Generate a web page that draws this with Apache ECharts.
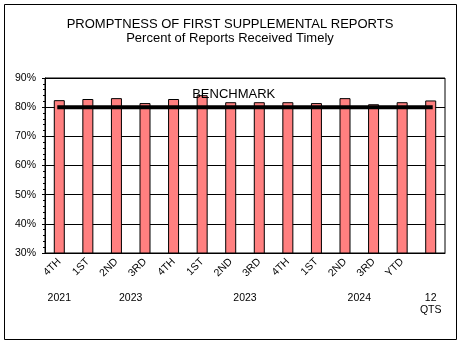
<!DOCTYPE html>
<html>
<head>
<meta charset="utf-8">
<style>
  html, body { margin: 0; padding: 0; background: #fff; }
  #chart { width: 460px; height: 343px; }
</style>
<script src="https://cdn.jsdelivr.net/npm/echarts@6/dist/echarts.min.js"></script>
</head>
<body>
<div id="chart"></div>
<script>
// Quarter labels along the axis (last bar is the 12-quarter total)
const quarters = ['4TH', '1ST', '2ND', '3RD', '4TH', '1ST', '2ND', '3RD', '4TH', '1ST', '2ND', '3RD', 'YTD', ''];
// Percent of first supplemental reports received on time
const timelyPct = [82.4, 82.8, 83.1, 81.4, 82.8, 84.1, 81.7, 81.7, 81.7, 81.4, 83.1, 81.0, 81.7, 82.3];
// Benchmark target
const benchmark = [80, 80, 80, 80, 80, 80, 80, 80, 80, 80, 80, 80, 80, 80];
// Year / period captions under the quarter labels
const periodLabels = ['2021', '2023', '2023', '2024', '12\nQTS'];
// Y axis range and step (percent)
const yMin = 30, yMax = 90, yStep = 10;

// Period captions sit on a half-step axis: slot 2i+1 is the centre of bar i,
// slot 2i+2 is the gap after bar i.
const periodSlots = [1, 6, 14, 22, 27];
const halfSteps = new Array(quarters.length * 2 + 1).fill('');
periodSlots.forEach((s, i) => { halfSteps[s] = periodLabels[i]; });

const font = "'Liberation Sans', Arial, sans-serif";
const chart = echarts.init(document.getElementById('chart'), null, { renderer: 'canvas' });

chart.setOption({
  animation: false,
  backgroundColor: '#fff',
  textStyle: { fontFamily: font, color: '#000' },
  title: {
    text: 'PROMPTNESS OF FIRST SUPPLEMENTAL REPORTS',
    subtext: 'Percent of Reports Received Timely',
    left: 'center',
    top: 13,
    itemGap: 1,
    textStyle: { fontFamily: font, fontSize: 13, fontWeight: 'normal', color: '#000' },
    subtextStyle: { fontFamily: font, fontSize: 13, color: '#000' }
  },
  graphic: [{
    type: 'rect',
    shape: { x: 4.5, y: 4.5, width: 452, height: 335 },
    style: { fill: 'none', stroke: '#000', lineWidth: 1 },
    silent: true
  }],
  grid: {
    left: 45, right: 15, top: 78, bottom: 90,
    show: true, borderColor: '#000', borderWidth: 1, backgroundColor: '#fff'
  },
  xAxis: [{
    type: 'category',
    data: quarters,
    axisLine: { lineStyle: { color: '#000', width: 1 } },
    axisTick: { show: false },
    axisLabel: {
      interval: 0, rotate: 45, margin: 7,
      fontFamily: font, fontSize: 10.5, color: '#000'
    }
  }, {
    type: 'category',
    data: halfSteps,
    boundaryGap: false,
    position: 'bottom',
    offset: 0,
    axisLine: { show: false },
    axisTick: { show: false },
    axisLabel: {
      interval: 0, margin: 39, lineHeight: 12,
      fontFamily: font, fontSize: 10.5, color: '#000'
    }
  }],
  yAxis: {
    type: 'value',
    min: yMin, max: yMax, interval: yStep,
    axisLine: { show: true, lineStyle: { color: '#000', width: 1 } },
    axisTick: { show: true, length: 3, lineStyle: { color: '#000' } },
    minorTick: { show: true, splitNumber: 5, length: 2, lineStyle: { color: '#000' } },
    splitLine: { show: true, lineStyle: { color: '#000', width: 1 } },
    axisLabel: {
      margin: 9, formatter: '{value}%',
      fontFamily: font, fontSize: 10.5, color: '#000'
    }
  },
  series: [{
    name: 'Timely',
    type: 'bar',
    data: timelyPct,
    barWidth: 11,
    itemStyle: { color: '#FF8080', borderColor: '#000', borderWidth: 1 },
    z: 2
  }, {
    name: 'Benchmark',
    type: 'line',
    data: benchmark,
    symbol: 'none',
    lineStyle: { color: '#000', width: 4, cap: 'square' },
    z: 3,
    markPoint: {
      symbol: 'circle',
      symbolSize: 0,
      data: [{ coord: [6, benchmark[6]] }],
      label: {
        show: true, formatter: 'BENCHMARK', position: 'top', distance: 6, offset: [3, 0],
        fontFamily: font, fontSize: 13, color: '#000'
      }
    }
  }]
});
</script>
</body>
</html>
